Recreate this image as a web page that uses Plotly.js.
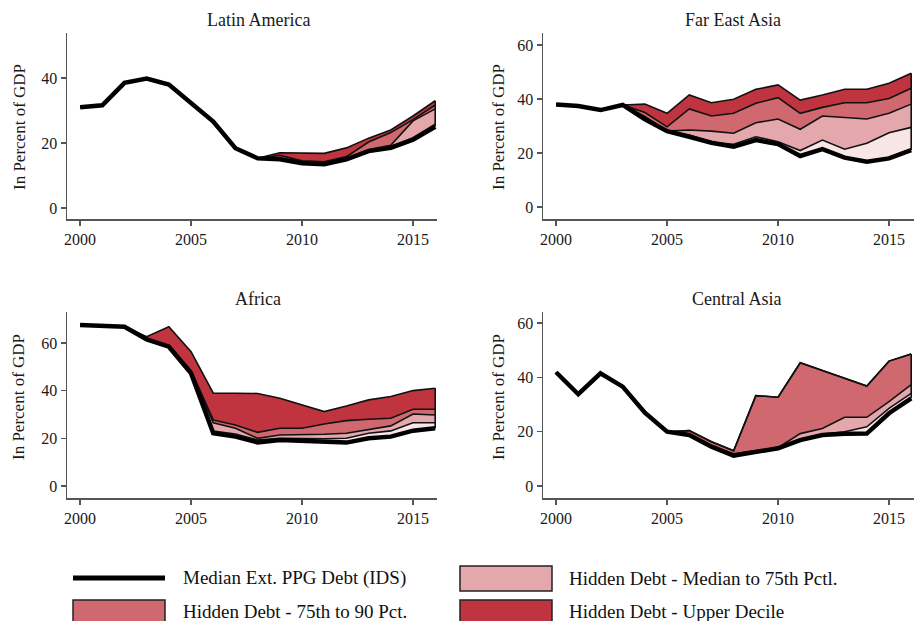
<!DOCTYPE html>
<html>
<head>
<meta charset="utf-8">
<script src="https://cdn.plot.ly/plotly-3.0.1.min.js"></script>
<style>html,body{margin:0;padding:0;background:#fff;}#chart{width:914px;height:621px;}</style>
</head>
<body>
<div id="chart"></div>
<script>
// ---------- data ----------
const years = [2000,2001,2002,2003,2004,2005,2006,2007,2008,2009,2010,2011,2012,2013,2014,2015,2016];
const regions = ["Latin America", "Far East Asia", "Africa", "Central Asia"];
const xTicks = [2000, 2005, 2010, 2015];
const yTicksLatAm = [0, 20, 40];
const yTicksOther = [0, 20, 40, 60];
const seriesNames = ["Median Ext. PPG Debt (IDS)", "Hidden Debt - Median to 75th Pctl.", "Hidden Debt - 75th to 90 Pct.", "Hidden Debt - Upper Decile"];
const yTitle = "In Percent of GDP";

// Latin America
const latIds = [31.0,31.6,38.5,39.8,38.0,32.3,26.6,18.4,15.3,15.0,13.8,13.5,15.0,17.5,18.5,21.0,25.0];
const latL1  = [31.0,31.6,38.5,39.8,38.0,32.3,26.6,18.4,15.3,15.0,13.8,13.5,15.0,17.8,19.0,21.6,25.8];
const latL2  = [31.0,31.6,38.5,39.8,38.0,32.3,26.6,18.4,15.3,15.4,14.0,13.8,15.3,18.0,19.3,26.8,30.5];
const latL3  = [31.0,31.6,38.5,39.8,38.0,32.3,26.6,18.4,15.3,16.2,14.5,14.2,15.8,20.3,23.2,27.2,31.7];
const latL4  = [31.0,31.6,38.5,39.8,38.0,32.3,26.6,18.4,15.3,17.0,16.8,16.8,18.5,21.5,24.0,28.3,33.0];

// Far East Asia
const feaIds = [38.0,37.4,35.9,37.8,32.5,28.1,26.0,23.8,22.3,24.8,23.3,18.9,21.4,18.3,16.8,18.0,21.1];
const feaL1  = [38.0,37.4,35.9,37.8,32.8,28.1,26.7,24.0,23.2,26.0,24.2,20.9,24.8,21.4,23.6,27.5,29.5];
const feaL2  = [38.0,37.4,35.9,37.8,33.5,28.1,28.5,28.1,27.3,31.2,32.6,28.8,33.7,33.2,32.6,34.7,38.1];
const feaL3  = [38.0,37.4,35.9,37.8,35.0,29.7,36.3,33.7,34.7,38.4,40.5,34.7,36.9,38.6,38.6,40.2,44.0];
const feaL4  = [38.0,37.4,35.9,37.8,38.1,34.7,41.5,38.6,39.9,43.6,45.2,39.6,41.5,43.6,43.6,45.8,49.5];

// Africa
const afrIds = [67.5,67.2,66.8,61.5,58.4,47.2,22.1,20.7,18.3,19.3,18.9,18.5,18.2,20.0,20.7,23.2,24.2];
const afrL1  = [67.5,67.2,66.8,61.5,58.4,47.3,23.0,21.8,19.3,20.0,19.8,19.8,20.0,22.1,23.1,26.5,26.5];
const afrL2  = [67.5,67.2,66.8,61.5,58.4,47.5,26.5,24.2,20.0,21.4,21.4,21.7,22.1,23.8,25.2,30.2,29.8];
const afrL3  = [67.5,67.2,66.8,61.5,59.0,48.5,27.7,25.6,22.5,24.2,24.2,26.0,27.4,28.0,28.4,32.2,32.2];
const afrL4  = [67.5,67.2,66.8,62.6,66.8,56.3,38.9,38.9,38.8,36.8,34.0,31.2,33.5,36.1,37.5,40.0,41.0];

// Central Asia
const casIds = [41.9,33.8,41.5,36.6,27.0,20.0,18.8,14.5,11.2,12.4,13.9,16.9,18.8,19.2,19.3,26.8,32.3];
const casL1  = [41.9,33.8,41.5,36.6,27.0,20.0,18.8,14.5,11.2,12.6,14.0,17.3,19.1,20.0,21.8,28.6,34.1];
const casL2  = [41.9,33.8,41.5,36.6,27.0,20.0,18.9,14.6,11.9,12.9,14.1,19.3,21.2,25.3,25.3,31.1,37.3];
const casL3  = [41.9,33.8,41.5,36.6,27.0,20.0,20.4,16.3,13.0,33.3,32.7,45.4,42.5,39.7,36.8,46.0,48.6];
const casL4  = [41.9,33.8,41.5,36.6,27.0,20.0,20.4,16.3,13.0,33.3,32.7,45.4,42.5,39.7,36.8,46.0,48.6];

// ---------- styles ----------
const C_LIGHTEST = "#F8E6E6";
const C_LIGHT = "#E4A7AC";
const C_MED = "#D0686F";
const C_DARK = "#C0343F";
const FONT = "Liberation Serif, Times New Roman, serif";
const W = 914, H = 621;
const px = v => v / W;
const py = v => 1 - v / H;

function panel(n, ids, l1, l2, l3, l4) {
  const xa = n === 1 ? "x" : "x" + n;
  const ya = n === 1 ? "y" : "y" + n;
  const base = {x: years, xaxis: xa, yaxis: ya, mode: "lines", showlegend: false, hoverinfo: "skip"};
  const edge = {color: "#111", width: 1.6};
  const last = years.length - 1;
  return [
    Object.assign({}, base, {y: ids, line: {width: 0, color: "rgba(0,0,0,0)"}}),
    Object.assign({}, base, {y: l1, fill: "tonexty", fillcolor: C_LIGHTEST, line: edge}),
    Object.assign({}, base, {y: l2, fill: "tonexty", fillcolor: C_LIGHT, line: edge}),
    Object.assign({}, base, {y: l3, fill: "tonexty", fillcolor: C_MED, line: edge}),
    Object.assign({}, base, {y: l4, fill: "tonexty", fillcolor: C_DARK, line: edge}),
    Object.assign({}, base, {x: [years[last], years[last]], y: [ids[last], l4[last]], line: edge}),
    Object.assign({}, base, {y: ids, line: {color: "#000", width: 4.5}})
  ];
}

const data = [].concat(
  panel(1, latIds, latL1, latL2, latL3, latL4),
  panel(2, feaIds, feaL1, feaL2, feaL3, feaL4),
  panel(3, afrIds, afrL1, afrL2, afrL3, afrL4),
  panel(4, casIds, casL1, casL2, casL3, casL4)
);

function xax(x0, x1, anchor) {
  return {domain: [px(x0), px(x1)], anchor: anchor, range: [1999.41, 2000 + (x1 - x0 - 13) / 22.2],
    tickvals: xTicks, ticks: "outside", ticklen: 5, tickwidth: 1.3, tickcolor: "#555",
    showline: true, linecolor: "#555", linewidth: 1.5, showgrid: false, zeroline: false,
    tickfont: {family: FONT, size: 16, color: "#1a1a1a"}};
}
function yax(top, bottom, zeroPx, pxPerUnit, ticks, anchor) {
  return {domain: [py(bottom), py(top)], anchor: anchor,
    range: [-(bottom - zeroPx) / pxPerUnit, (zeroPx - top) / pxPerUnit],
    tickvals: ticks, ticks: "outside", ticklen: 5, tickwidth: 1.3, tickcolor: "#555",
    showline: true, linecolor: "#555", linewidth: 1.5, showgrid: false, zeroline: false,
    tickfont: {family: FONT, size: 16, color: "#1a1a1a"}};
}

const annotations = [];
const titlePos = [[258, 20], [733, 20], [258, 299], [736, 299]];
regions.forEach((r, i) => {
  annotations.push({text: r, xref: "paper", yref: "paper", x: px(titlePos[i][0]), y: py(titlePos[i][1]),
    xanchor: "center", yanchor: "middle", showarrow: false, font: {family: FONT, size: 18, color: "#1a1a1a"}});
});
const yTitlePos = [[19, 127], [498, 127], [19, 397], [499, 397]];
yTitlePos.forEach(p => {
  annotations.push({text: yTitle, textangle: -90, xref: "paper", yref: "paper", x: px(p[0]), y: py(p[1]),
    xanchor: "center", yanchor: "middle", showarrow: false, font: {family: FONT, size: 17, color: "#1a1a1a"}});
});

// legend (drawn manually)
const legendText = [[181, 578], [567, 578], [181, 611], [567, 611]];
seriesNames.forEach((s, i) => {
  annotations.push({text: s, xref: "paper", yref: "paper", x: px(legendText[i][0]), y: py(legendText[i][1]),
    xanchor: "left", yanchor: "middle", showarrow: false, font: {family: FONT, size: 19, color: "#111"}});
});
const shapes = [
  {type: "line", xref: "paper", yref: "paper", x0: px(73), x1: px(165), y0: py(578), y1: py(578), line: {color: "#000", width: 5}},
  {type: "rect", xref: "paper", yref: "paper", x0: px(460), x1: px(552), y0: py(591), y1: py(566), fillcolor: C_LIGHT, line: {color: "#222", width: 1.5}},
  {type: "rect", xref: "paper", yref: "paper", x0: px(73), x1: px(165), y0: py(635), y1: py(600), fillcolor: C_MED, line: {color: "#222", width: 1.5}},
  {type: "rect", xref: "paper", yref: "paper", x0: px(460), x1: px(552), y0: py(635), y1: py(600), fillcolor: C_DARK, line: {color: "#222", width: 1.5}}
];

const layout = {
  width: W, height: H,
  margin: {l: 0, r: 0, t: 0, b: 0},
  paper_bgcolor: "#fff", plot_bgcolor: "#fff",
  showlegend: false,
  font: {family: FONT},
  xaxis: xax(67, 437, "y"),
  yaxis: yax(33, 219, 208, 3.25, yTicksLatAm, "x"),
  xaxis2: xax(543, 914, "y2"),
  yaxis2: yax(33, 219, 207, 2.7, yTicksOther, "x2"),
  xaxis3: xax(67, 437, "y3"),
  yaxis3: yax(312, 498, 486, 2.385, yTicksOther, "x3"),
  xaxis4: xax(543, 914, "y4"),
  yaxis4: yax(312, 498, 486, 2.715, yTicksOther, "x4"),
  annotations: annotations,
  shapes: shapes
};

Plotly.newPlot("chart", data, layout, {displayModeBar: false, staticPlot: true});
</script>
</body>
</html>
